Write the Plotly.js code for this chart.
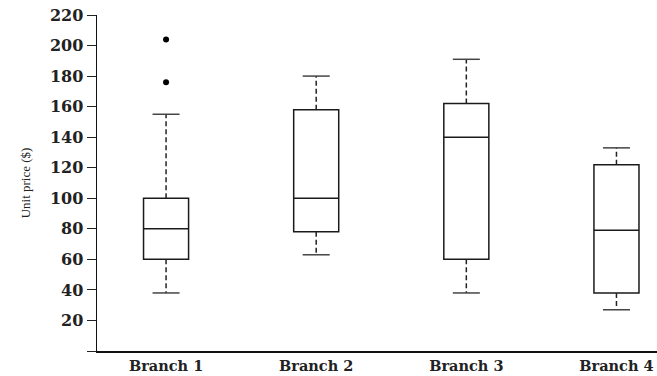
<!DOCTYPE html>
<html>
<head>
<meta charset="utf-8">
<script src="https://cdn.plot.ly/plotly-3.0.1.min.js"></script>
<style>html,body{margin:0;padding:0;background:#fff;}#chart{width:657px;height:376px;}</style>
</head>
<body>
<div id="chart"></div>
<script>
const categories = ["Branch 1", "Branch 2", "Branch 3", "Branch 4"];
const lowerWhisker = [38, 63, 38, 27];
const q1Values = [60, 78, 60, 38];
const medianValues = [80, 100, 140, 79];
const q3Values = [100, 158, 162, 122];
const upperWhisker = [155, 180, 191, 133];
const outlierBranch = [0, 0];
const outlierValues = [204, 176];
const yTickValues = [0, 20, 40, 60, 80, 100, 120, 140, 160, 180, 200, 220];
const yTickLabels = ["", "20", "40", "60", "80", "100", "120", "140", "160", "180", "200", "220"];

const pos = categories.map((c, i) => i);
const capHalf = 0.09;

const wx = [], wy = [];
const cx = [], cy = [];
pos.forEach((p, i) => {
  wx.push(p, p, null, p, p, null);
  wy.push(q3Values[i], upperWhisker[i], null, q1Values[i], lowerWhisker[i], null);
  cx.push(p - capHalf, p + capHalf, null, p - capHalf, p + capHalf, null);
  cy.push(upperWhisker[i], upperWhisker[i], null, lowerWhisker[i], lowerWhisker[i], null);
});

const traces = [
  {
    type: 'scatter', mode: 'lines', x: wx, y: wy,
    line: {color: '#222', width: 1.5, dash: '5px,3px'},
    hoverinfo: 'skip', showlegend: false
  },
  {
    type: 'scatter', mode: 'lines', x: cx, y: cy,
    line: {color: '#444', width: 1.5},
    hoverinfo: 'skip', showlegend: false
  },
  {
    type: 'box', x: pos,
    q1: q1Values, median: medianValues, q3: q3Values,
    lowerfence: q1Values, upperfence: q3Values,
    width: 0.30, whiskerwidth: 0,
    fillcolor: 'rgba(255,255,255,1)',
    line: {color: '#1a1a1a', width: 1.5},
    boxpoints: false, showlegend: false
  },
  {
    type: 'scatter', mode: 'markers', x: outlierBranch, y: outlierValues,
    marker: {color: '#000', size: 6},
    showlegend: false
  }
];

const layout = {
  width: 657, height: 376,
  margin: {l: 97, r: 0, t: 15, b: 25},
  paper_bgcolor: '#fff', plot_bgcolor: '#fff',
  showlegend: false,
  xaxis: {
    range: [-0.46, 3.27],
    tickvals: pos, ticktext: categories,
    showgrid: false, zeroline: false,
    showline: true, linecolor: '#111', linewidth: 1.5,
    ticks: '', ticklen: 0, ticklabelstandoff: 1,
    ticklabeloverflow: 'allow',
    tickfont: {family: 'DejaVu Serif', size: 14.5, color: '#222', weight: 'bold'},
    fixedrange: true
  },
  yaxis: {
    range: [0, 220],
    tickvals: yTickValues, ticktext: yTickLabels,
    showgrid: false, zeroline: false,
    showline: true, linecolor: '#111', linewidth: 1.5,
    ticks: 'outside', ticklen: 9, tickwidth: 1, tickcolor: '#222',
    tickfont: {family: 'DejaVu Serif', size: 16, color: '#222', weight: 'bold'},
    title: {text: 'Unit price ($)', font: {family: 'Liberation Serif', size: 13, color: '#222'}, standoff: 16},
    fixedrange: true
  }
};

Plotly.newPlot('chart', traces, layout, {displayModeBar: false, staticPlot: true});
</script>
</body>
</html>
